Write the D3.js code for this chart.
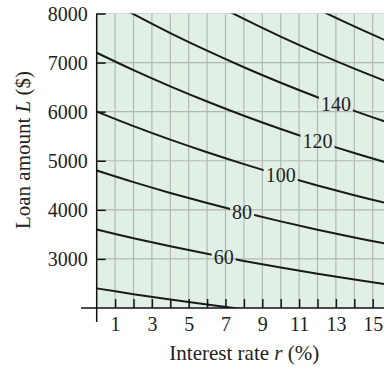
<!DOCTYPE html>
<html><head><meta charset="utf-8">
<script src="https://cdn.jsdelivr.net/npm/d3@7"></script>
<style>
html,body{margin:0;padding:0;background:#fff;}
svg{display:block;}
text{font-family:"Liberation Serif","Times New Roman",serif;}
</style></head>
<body>
<script>
// Interest rate samples (%) along each contour
const rates = [0, 2, 4, 6, 8, 10, 12, 14, 16];
// Contour levels (monthly payment, $)
const levels = [40, 60, 80, 100, 120, 140, 160, 180];
// Loan amount L ($) along each contour, read at the rates above
const contour40  = [2400, 2282, 2172, 2069, 1973, 1883, 1798, 1719, 1645];
const contour60  = [3600, 3423, 3258, 3104, 2959, 2824, 2697, 2579, 2467];
const contour80  = [4800, 4564, 4344, 4138, 3945, 3765, 3596, 3438, 3290];
const contour100 = [6000, 5705, 5430, 5173, 4932, 4707, 4496, 4298, 4112];
const contour120 = [7200, 6846, 6516, 6207, 5918, 5648, 5395, 5157, 4935];
const contour140 = [8400, 7987, 7602, 7242, 6905, 6589, 6294, 6017, 5757];
const contour160 = [9600, 9128, 8688, 8276, 7891, 7530, 7193, 6876, 6579];
const contour180 = [10800, 10270, 9774, 9311, 8877, 8472, 8092, 7736, 7402];
const contours = [contour40, contour60, contour80, contour100, contour120, contour140, contour160, contour180];
// Labelled contours and the rate where the label sits
const labelLevels = [60, 80, 100, 120, 140];
const labelRates = [6.9, 7.9, 10.0, 12.0, 13.0];
// Tick values
const xTicks = [1,2,3,4,5,6,7,8,9,10,11,12,13,14,15];
const yTicks = [3000, 4000, 5000, 6000, 7000, 8000];

const W = 384, H = 368;
const x0 = 96.7, yBot = 308, yTop = 13.5;
const x = d3.scaleLinear().domain([0, 15]).range([x0, 372.7]);
const y = d3.scaleLinear().domain([2000, 8000]).range([yBot, yTop]);

const svg = d3.select("body").append("svg").attr("width", W).attr("height", H);
const defs = svg.append("defs");
defs.append("clipPath").attr("id", "plotclip").append("rect")
  .attr("x", x0).attr("y", yTop).attr("width", W - x0).attr("height", yBot - yTop);

// background
svg.append("rect").attr("x", x0).attr("y", yTop).attr("width", W - x0).attr("height", yBot - yTop)
  .attr("fill", "#e0f0e5");

// grid
const grid = svg.append("g").attr("clip-path", "url(#plotclip)");
grid.selectAll("line.v").data(xTicks.concat([16])).join("line")
  .attr("x1", d => x(d)).attr("x2", d => x(d)).attr("y1", yTop).attr("y2", yBot)
  .attr("stroke", "#b3b7b4").attr("stroke-width", 1.2);
grid.selectAll("line.h").data(yTicks).join("line")
  .attr("x1", x0).attr("x2", W).attr("y1", d => y(d)).attr("y2", d => y(d))
  .attr("stroke", "#b3b7b4").attr("stroke-width", 1.2);

// label positions
function interp(arr, r) {
  return d3.scaleLinear().domain(rates).range(arr)(r);
}
const labels = labelLevels.map((lv, i) => {
  const arr = contours[levels.indexOf(lv)];
  const r = labelRates[i];
  return {lv, px: x(r), py: y(interp(arr, r))};
});

// mask to cut contour lines under labels
const mask = defs.append("mask").attr("id", "labmask").attr("maskUnits", "userSpaceOnUse")
  .attr("x", 0).attr("y", 0).attr("width", W).attr("height", H);
mask.append("rect").attr("x", 0).attr("y", 0).attr("width", W).attr("height", H).attr("fill", "#fff");
labels.forEach(l => {
  const w = String(l.lv).length * 10 + 4;
  mask.append("rect").attr("x", l.px - w / 2).attr("y", l.py - 9).attr("width", w).attr("height", 18).attr("fill", "#000");
});

const line = d3.line().x((d, i) => x(rates[i])).y(d => y(d)).curve(d3.curveCatmullRom);
const cg = svg.append("g").attr("clip-path", "url(#plotclip)");
cg.append("g").attr("mask", "url(#labmask)")
  .selectAll("path").data(contours).join("path")
  .attr("d", d => line(d)).attr("fill", "none").attr("stroke", "#1a1a1a").attr("stroke-width", 2);

svg.append("g").selectAll("text").data(labels).join("text")
  .attr("x", d => d.px).attr("y", d => d.py).attr("dy", "0.34em")
  .attr("text-anchor", "middle").attr("font-size", 20).attr("fill", "#222")
  .text(d => d.lv);

// axes
const yAxis = svg.append("g").attr("transform", `translate(${x0},0)`)
  .call(d3.axisLeft(y).tickValues(yTicks).tickSizeInner(-9).tickSizeOuter(0).tickPadding(9).tickFormat(d3.format("d")));
yAxis.select(".domain").remove();
yAxis.selectAll(".tick line").attr("stroke", "#111").attr("stroke-width", 1.5);
yAxis.selectAll(".tick text").attr("font-size", 20).attr("fill", "#222").attr("dy", "0.33em")
  .style("font-family", '"Liberation Serif", serif');

const xAxis = svg.append("g").attr("transform", `translate(0,${yBot})`)
  .call(d3.axisBottom(x).tickValues(xTicks).tickSizeInner(-9).tickSizeOuter(0).tickPadding(9).tickFormat(d => d % 2 ? d : ""));
xAxis.select(".domain").remove();
xAxis.selectAll(".tick line").attr("stroke", "#111").attr("stroke-width", 1.5);
xAxis.selectAll(".tick text").attr("font-size", 20).attr("fill", "#222")
  .style("font-family", '"Liberation Serif", serif');

// axis lines
svg.append("line").attr("x1", x0).attr("x2", x0).attr("y1", yTop).attr("y2", 322)
  .attr("stroke", "#111").attr("stroke-width", 1.5);
svg.append("line").attr("x1", 81).attr("x2", W).attr("y1", yBot).attr("y2", yBot)
  .attr("stroke", "#111").attr("stroke-width", 1.5);

// titles
const xt = svg.append("text").attr("x", 244.3).attr("y", 360).attr("text-anchor", "middle")
  .attr("font-size", 21).attr("fill", "#222");
xt.append("tspan").text("Interest rate ");
xt.append("tspan").attr("font-style", "italic").text("r");
xt.append("tspan").text(" (%)");

const yt = svg.append("text").attr("transform", "translate(30,150) rotate(-90)").attr("text-anchor", "middle")
  .attr("font-size", 21).attr("fill", "#222");
yt.append("tspan").text("Loan amount ");
yt.append("tspan").attr("font-style", "italic").text("L");
yt.append("tspan").text(" ($)");
</script>
</body></html>
